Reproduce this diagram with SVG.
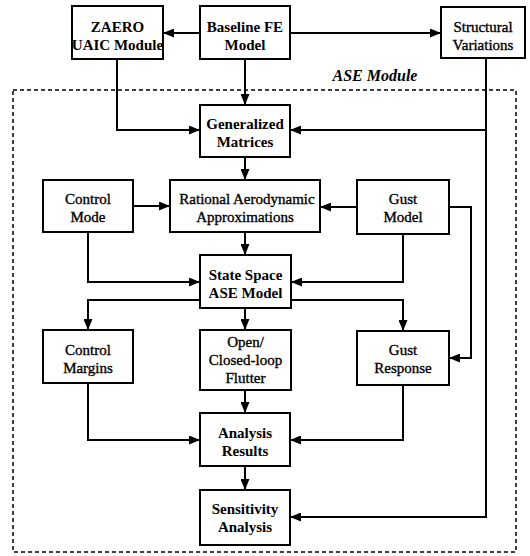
<svg xmlns="http://www.w3.org/2000/svg" width="530" height="556" viewBox="0 0 530 556">
<style>
.box{fill:#fff;stroke:#000;stroke-width:2}
.t{font-family:"Liberation Serif","Times New Roman",serif;font-size:15px;font-weight:bold;text-anchor:middle;fill:#000}
.r{font-weight:normal;stroke:#000;stroke-width:0.35}
.c{fill:none;stroke:#000;stroke-width:2;marker-end:url(#ah)}
.dash{fill:none;stroke:#000;stroke-width:1.5;stroke-dasharray:4,3}
.lbl{font-family:"Liberation Serif","Times New Roman",serif;font-size:16px;font-weight:bold;font-style:italic;text-anchor:middle;fill:#000}
</style>
<defs>
<marker id="ah" markerUnits="userSpaceOnUse" markerWidth="11" markerHeight="9" refX="11" refY="4.5" orient="auto">
<path d="M0,0 L11,4.5 L0,9 z" fill="#000"/>
</marker>
</defs>
<rect class="dash" x="13" y="90" width="503" height="462"/>
<text class="lbl" x="375" y="81">ASE Module</text>
<g id="connectors">
<path class="c" d="M200,33 H163"/>
<path class="c" d="M290,33 H441"/>
<path class="c" d="M245,59 V105"/>
<path class="c" d="M117,59 V130 H200"/>
<path class="c" d="M486,130 H290"/>
<path class="c" d="M486,58 V517 H290"/>
<path class="c" d="M245,157 V180"/>
<path class="c" d="M133,206 H170"/>
<path class="c" d="M357,207 H320"/>
<path class="c" d="M245,232 V255"/>
<path class="c" d="M88,232 V282 H200"/>
<path class="c" d="M403,234 V282 H291"/>
<path class="c" d="M449,207 H471 V358 H449"/>
<path class="c" d="M200,300 H88 V330"/>
<path class="c" d="M245,308 V330"/>
<path class="c" d="M291,300 H403 V331"/>
<path class="c" d="M245,390 V413"/>
<path class="c" d="M88,383 V440 H200"/>
<path class="c" d="M403,385 V440 H290"/>
<path class="c" d="M245,466 V490"/>
</g>
<g id="zaero"><rect class="box" x="72" y="6" width="91" height="53"/><text class="t" x="117.5" y="32">ZAERO</text><text class="t" x="117.5" y="50">UAIC Module</text></g>
<g id="baseline"><rect class="box" x="200" y="6" width="90" height="53"/><text class="t" x="245" y="32">Baseline FE</text><text class="t" x="245" y="50">Model</text></g>
<g id="structural"><rect class="box" x="441" y="7" width="84" height="51"/><text class="t r" x="483" y="32">Structural</text><text class="t r" x="483" y="50">Variations</text></g>
<g id="generalized"><rect class="box" x="200" y="105" width="90" height="52"/><text class="t" x="245" y="129">Generalized</text><text class="t" x="245" y="147">Matrices</text></g>
<g id="rational"><rect class="box" x="170" y="180" width="150" height="52"/><text class="t r" x="247" y="204">Rational Aerodynamic</text><text class="t r" x="245" y="222">Approximations</text></g>
<g id="controlmode"><rect class="box" x="43" y="180" width="90" height="52"/><text class="t r" x="88" y="204">Control</text><text class="t r" x="88" y="222">Mode</text></g>
<g id="gustmodel"><rect class="box" x="357" y="180" width="92" height="54"/><text class="t r" x="403" y="204">Gust</text><text class="t r" x="403" y="222">Model</text></g>
<g id="statespace"><rect class="box" x="200" y="255" width="91" height="53"/><text class="t" x="245.5" y="280">State Space</text><text class="t" x="245.5" y="298">ASE Model</text></g>
<g id="controlmargins"><rect class="box" x="43" y="330" width="90" height="53"/><text class="t r" x="88" y="355">Control</text><text class="t r" x="88" y="373">Margins</text></g>
<g id="flutter"><rect class="box" x="200" y="330" width="91" height="60"/><text class="t r" x="245.5" y="347">Open/</text><text class="t r" x="245.5" y="365">Closed-loop</text><text class="t r" x="245.5" y="383">Flutter</text></g>
<g id="gustresponse"><rect class="box" x="357" y="331" width="92" height="54"/><text class="t r" x="403" y="355">Gust</text><text class="t r" x="403" y="373">Response</text></g>
<g id="analysis"><rect class="box" x="200" y="413" width="90" height="53"/><text class="t" x="245" y="438">Analysis</text><text class="t" x="245" y="456">Results</text></g>
<g id="sensitivity"><rect class="box" x="200" y="490" width="90" height="55"/><text class="t" x="245" y="514">Sensitivity</text><text class="t" x="245" y="532">Analysis</text></g>
</svg>
